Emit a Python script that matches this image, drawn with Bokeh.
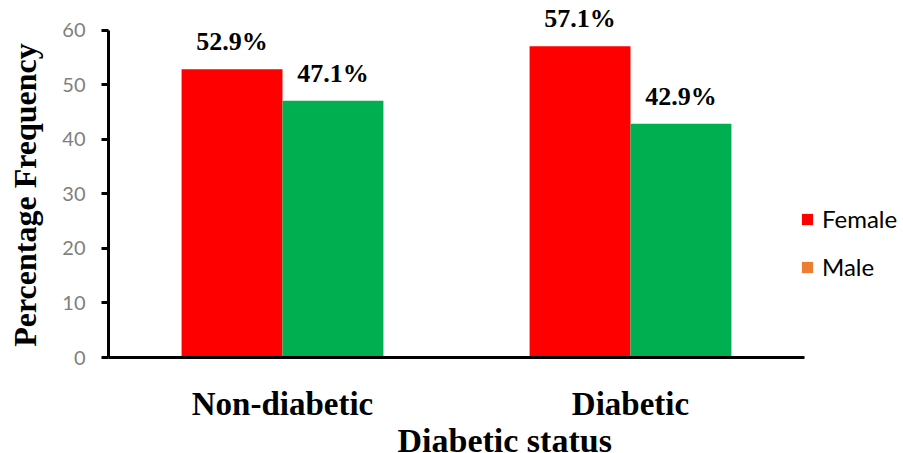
from bokeh.plotting import figure
from bokeh.models import (ColumnDataSource, Legend, LegendItem, Title,
                          Range1d, FixedTicker)
from bokeh.transform import dodge
from bokeh.core.properties import value
from bokeh.embed import file_html
from bokeh.resources import INLINE

# Share of each sex within the two diabetic-status groups (%)
categories = ["Non-diabetic", "Diabetic"]
female = [52.9, 57.1]
male = [47.1, 42.9]
female_labels = ["52.9%", "57.1%"]
male_labels = ["47.1%", "42.9%"]
y_ticks = [0, 10, 20, 30, 40, 50, 60]

FEMALE_RED = "#FF0000"
MALE_GREEN = "#00B050"
MALE_KEY = "#ED7D31"
SERIF = "Liberation Serif"
NBSP = "\u00a0"

# each category occupies one unit on x, centred on i + 0.5
pos = [i + 0.5 for i in range(len(categories))]
src = ColumnDataSource(dict(pos=pos, female=female, male=male,
                            flab=female_labels, mlab=male_labels))

# the x range runs on past the last category to leave room for the legend;
# the y range runs a little past 60 for the value labels (axes stop at 2 and 60)
p = figure(width=903, height=453, x_range=Range1d(0, 2.2845), y_range=Range1d(0, 65.5),
           output_backend="svg", toolbar_location=None,
           min_border_left=108, min_border_right=0, min_border_top=0, min_border_bottom=96)
p.outline_line_color = None
p.grid.grid_line_color = None
p.background_fill_color = "white"

BAR_W = 0.29
OFF = 0.145
p.vbar(x=dodge("pos", -OFF), top="female", width=BAR_W, source=src,
       fill_color=FEMALE_RED, line_color=None)
p.vbar(x=dodge("pos", OFF), top="male", width=BAR_W, source=src,
       fill_color=MALE_GREEN, line_color=None)

# value labels above the bars
for col, lab, off in (("female", "flab", -OFF), ("male", "mlab", OFF)):
    p.text(x=dodge("pos", off), y=col, text=lab, source=src,
           text_align="center", text_baseline="bottom", y_offset=-13,
           text_font=value(SERIF), text_font_style="bold", text_font_size="26px",
           text_color="black")

# y axis
ya = p.yaxis[0]
ya.bounds = (0, 60)
ya.ticker = FixedTicker(ticks=y_ticks)
ya.axis_line_width = 3
ya.axis_line_color = "black"
ya.major_tick_line_width = 3
ya.major_tick_out = 7
ya.major_tick_in = 0
ya.minor_tick_line_color = None
ya.major_label_text_color = "#7F7F7F"
ya.major_label_text_font = "Lato"
ya.major_label_text_font_size = "20px"
ya.major_label_standoff = 16
# trailing spaces move the title down along the axis, level with the 0-60 span
ya.axis_label = "Percentage Frequency" + NBSP * 4
ya.axis_label_text_font = SERIF
ya.axis_label_text_font_style = "bold"
ya.axis_label_text_font_size = "32px"
ya.axis_label_text_color = "black"
ya.axis_label_standoff = 16

# x axis with the category names at the category centres
xa = p.xaxis[0]
xa.bounds = (0, len(categories))
xa.ticker = FixedTicker(ticks=pos)
xa.major_label_overrides = {x: name for x, name in zip(pos, categories)}
xa.axis_line_width = 3
xa.axis_line_color = "black"
xa.major_tick_line_color = None
xa.minor_tick_line_color = None
xa.major_label_text_font = SERIF
xa.major_label_text_font_style = "bold"
xa.major_label_text_font_size = "33px"
xa.major_label_text_color = "black"
xa.major_label_standoff = 22

# x axis title
p.add_layout(Title(text="Diabetic status", align="left", offset=289, standoff=-10,
                   text_font=SERIF, text_font_style="bold", text_font_size="34px",
                   text_color="black"), "below")

# legend keys (the Male key uses its own swatch colour); the key points sit below the view
key_src = ColumnDataSource(dict(x=[1.0], y=[-50.0]))
rf = p.rect(x="x", y="y", width=0.01, height=1, source=key_src, fill_color=FEMALE_RED, line_color=None)
rm = p.rect(x="x", y="y", width=0.01, height=1, source=key_src, fill_color=MALE_KEY, line_color=None)
legend = Legend(items=[LegendItem(label="Female", renderers=[rf]),
                       LegendItem(label="Male", renderers=[rm])],
                location=(692, 76), orientation="vertical",
                glyph_width=14, glyph_height=14, label_standoff=8,
                label_height=29, spacing=19, padding=0, margin=0,
                border_line_alpha=0, background_fill_alpha=0,
                label_text_font="Lato", label_text_font_size="24px", label_text_color="black")
p.add_layout(legend)

open("out.html", "w").write(file_html(p, INLINE))
